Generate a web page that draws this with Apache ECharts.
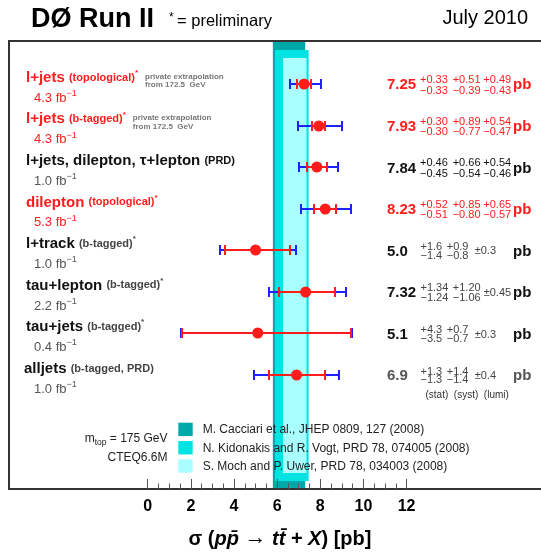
<!DOCTYPE html>
<html><head><meta charset="utf-8">
<script src="https://cdn.jsdelivr.net/npm/echarts@6/dist/echarts.min.js"></script>
<style>html,body{margin:0;padding:0;background:#fff}#c{width:541px;height:553px}</style>
</head><body><div id="c"></div>
<script>
// ================= DATA =================
const channels = ['l+jets', 'l+jets', 'l+jets, dilepton, \u03c4+lepton', 'dilepton', 'l+track', 'tau+lepton', 'tau+jets', 'alljets'];
const channelNotes = ['(topological)', '(b-tagged)', '(PRD)', '(topological)', '(b-tagged)', '(b-tagged)', '(b-tagged)', '(b-tagged, PRD)'];
const preliminary = [true, true, false, true, true, true, true, false];
const luminosities = ['4.3', '4.3', '1.0', '5.3', '1.0', '2.2', '0.4', '1.0'];
const extrapolationNote = ['private extrapolation', 'from 172.5  GeV'];
const extrapolatedRows = [0, 1];

const xsecValues = [7.25, 7.93, 7.84, 8.23, 5.0, 7.32, 5.1, 6.9];
const xsecLabels = ['7.25', '7.93', '7.84', '8.23', '5.0', '7.32', '5.1', '6.9'];
const statUp = ['+0.33', '+0.30', '+0.46', '+0.52', '+1.6', '+1.34', '+4.3', '+1.3'];
const statDown = ['\u22120.33', '\u22120.30', '\u22120.45', '\u22120.51', '\u22121.4', '\u22121.24', '\u22123.5', '\u22121.3'];
const systUp = ['+0.51', '+0.89', '+0.66', '+0.85', '+0.9', '+1.20', '+0.7', '+1.4'];
const systDown = ['\u22120.39', '\u22120.77', '\u22120.54', '\u22120.80', '\u22120.8', '\u22121.06', '\u22120.7', '\u22121.4'];
const lumiUp = ['+0.49', '+0.54', '+0.54', '+0.65', null, null, null, null];
const lumiDown = ['\u22120.43', '\u22120.47', '\u22120.46', '\u22120.57', null, null, null, null];
const lumiSym = [null, null, null, null, '\u00b10.3', '\u00b10.45', '\u00b10.3', '\u00b10.4'];

// error bar ends (stat = inner red, total = outer blue)
const statLow = [6.92, 7.63, 7.39, 7.72, 3.60, 6.08, 1.60, 5.60];
const statHigh = [7.58, 8.23, 8.30, 8.75, 6.60, 8.66, 9.40, 8.20];
const totalLow = [6.58, 6.98, 7.00, 7.12, 3.36, 5.63, 1.52, 4.92];
const totalHigh = [8.03, 9.01, 8.81, 9.42, 6.86, 9.17, 9.45, 8.85];

const theoryNames = ['M. Cacciari et al., JHEP 0809, 127 (2008)', 'N. Kidonakis and R. Vogt, PRD 78, 074005 (2008)', 'S. Moch and P. Uwer, PRD 78, 034003 (2008)'];
const theoryLow = [5.80, 5.90, 6.27];
const theoryHigh = [7.30, 7.46, 7.36];

const majorTicks = [0, 2, 4, 6, 8, 10, 12];
const minorTicks = [0.5, 1, 1.5, 2.5, 3, 3.5, 4.5, 5, 5.5, 6.5, 7, 7.5, 8.5, 9, 9.5, 10.5, 11, 11.5];

// ================= STYLE =================
const FF = '"Liberation Sans", Arial, Helvetica, sans-serif';
const RED = '#ff1c1c', BLUE = '#2020ff', BLACK = '#111', GRAY = '#555', NOTE = '#777';
const BAND_COLORS = ['#00a9a9', '#00e3e3', '#a9ffff'];
// row text theme: r = red (preliminary highlight), k = black, g = gray value
const rowTheme = ['r', 'r', 'k', 'r', 'k', 'k', 'k', 'g'];
const tightRows = [4, 6, 7];

const mctx = document.createElement('canvas').getContext('2d');
function tw(t, font) { mctx.font = font; return mctx.measureText(t).width; }

const chart = echarts.init(document.getElementById('c'), null, { renderer: 'canvas' });

function txt(x, y, text, o) {
  return {
    type: 'text', x: x, y: y, z2: 10,
    style: Object.assign({ text: text, fontFamily: FF, fontSize: 11, fill: BLACK, align: 'left', verticalAlign: 'middle' }, o || {})
  };
}

function renderBands(params, api) {
  const lvl = api.value(2);
  const cs = params.coordSys;
  const x0 = api.coord([api.value(0), 0])[0];
  const x1 = api.coord([api.value(1), 0])[0];
  const inset = lvl * 8;
  return {
    type: 'rect',
    shape: { x: x0, y: cs.y + 1 + inset, width: x1 - x0, height: cs.height - 1 - inset * 2 },
    style: { fill: BAND_COLORS[lvl] }
  };
}

function renderErr(params, api) {
  const i = api.value(0);
  const px = function (v) { return Math.round(api.coord([v, i])[0]); };
  const y = Math.round(api.coord([0, i])[1]);
  const cap = 5;
  const ln = function (x1, x2, y1, y2, c) {
    return { type: 'line', shape: { x1: x1, y1: y1, x2: x2, y2: y2 }, style: { stroke: c, lineWidth: 2 } };
  };
  const tl = px(api.value(4)), th = px(api.value(5)), sl = px(api.value(2)), sh = px(api.value(3));
  return {
    type: 'group', children: [
      ln(tl, sl, y, y, BLUE), ln(sh, th, y, y, BLUE),
      ln(tl, tl, y - cap, y + cap, BLUE), ln(th, th, y - cap, y + cap, BLUE),
      ln(sl, sh, y, y, RED), ln(sl, sl, y - cap, y + cap, RED), ln(sh, sh, y - cap, y + cap, RED),
      { type: 'circle', shape: { cx: api.coord([api.value(1), i])[0], cy: y, r: 5.5 }, style: { fill: RED } }
    ]
  };
}

function renderRowText(params, api) {
  const i = api.value(1);
  const y = api.coord([0, i])[1];
  const th = rowTheme[i];
  const mainC = th === 'r' ? RED : BLACK;
  const subC = th === 'r' ? RED : (i === 2 ? BLACK : '#444');
  const lumC = th === 'r' ? RED : GRAY;
  const valC = th === 'r' ? RED : (th === 'g' ? GRAY : BLACK);
  const smallC = th === 'r' ? RED : (i === 2 ? BLACK : '#444');
  const ch = [];
  const lx = i === 7 ? 24 : 26;
  const star = preliminary[i] ? '{p|*}' : '';
  ch.push({
    type: 'text', x: lx, y: y - 6.5, z2: 10,
    style: {
      text: '{m|' + channels[i] + ' }{s|' + channelNotes[i] + '}' + star,
      align: 'left', verticalAlign: 'middle',
      rich: {
        m: { fontFamily: FF, fontSize: 15, fontWeight: 'bold', fill: mainC, lineHeight: 18 },
        s: { fontFamily: FF, fontSize: 11, fontWeight: 'bold', fill: subC, lineHeight: 18 },
        p: { fontFamily: FF, fontSize: 8, fontWeight: 'bold', fill: subC, lineHeight: 18, verticalAlign: 'top', padding: [0, 0, 6, 0] }
      }
    }
  });
  if (extrapolatedRows.indexOf(i) >= 0) {
    const w = tw(channels[i] + ' ', 'bold 15px ' + FF) + tw(channelNotes[i], 'bold 11px ' + FF) + tw('*', 'bold 8px ' + FF);
    ch.push(txt(lx + w + 7, y - 8, extrapolationNote[0], { fontSize: 8, fill: NOTE, fontWeight: 'bold' }));
    ch.push(txt(lx + w + 7, y + 0.8, extrapolationNote[1], { fontSize: 8, fill: NOTE, fontWeight: 'bold' }));
  }
  ch.push({
    type: 'text', x: 34, y: y + 14, z2: 10,
    style: {
      text: '{n|' + luminosities[i] + ' fb}{u|\u22121}',
      align: 'left', verticalAlign: 'middle',
      rich: {
        n: { fontFamily: FF, fontSize: 13, fill: lumC, lineHeight: 18 },
        u: { fontFamily: FF, fontSize: 9, fill: lumC, lineHeight: 18, verticalAlign: 'top', padding: [0, 0, 7, 0] }
      }
    }
  });
  const vy = y + 1;
  ch.push(txt(387, vy, xsecLabels[i], { fontSize: 15, fontWeight: 'bold', fill: valC }));
  const tight = tightRows.indexOf(i) >= 0;
  const uy = vy - (tight ? 4.2 : 5.2), dy = vy + (tight ? 4.2 : 5.5);
  const sf = '11px ' + FF;
  if (lumiUp[i]) {
    const cols = [420, 452.7, 483.3];
    const ups = [statUp[i], systUp[i], lumiUp[i]], dns = [statDown[i], systDown[i], lumiDown[i]];
    for (let k = 0; k < 3; k++) {
      ch.push(txt(cols[k], uy, ups[k], { fill: smallC }));
      ch.push(txt(cols[k], dy, dns[k], { fill: smallC }));
    }
  } else {
    const c1 = 420.5;
    const w1 = Math.max(tw(statUp[i], sf), tw(statDown[i], sf));
    const c2 = c1 + w1 + 4.5;
    const w2 = Math.max(tw(systUp[i], sf), tw(systDown[i], sf));
    ch.push(txt(c1, uy, statUp[i], { fill: smallC }));
    ch.push(txt(c1, dy, statDown[i], { fill: smallC }));
    ch.push(txt(c2, uy, systUp[i], { fill: smallC }));
    ch.push(txt(c2, dy, systDown[i], { fill: smallC }));
    ch.push(txt(Math.max(c2 + 28, c2 + w2 + 3), vy, lumiSym[i], { fill: smallC }));
  }
  ch.push(txt(513, vy, 'pb', { fontSize: 15, fontWeight: 'bold', fill: valC }));
  return { type: 'group', children: ch };
}

const axisCommon = { type: 'value', min: -6.43, max: 18.23, gridIndex: 0, splitLine: { show: false }, z: 3 };

const graphics = [
  { type: 'text', left: 31, top: 6, z: 100, style: { text: 'D\u00d8 Run II', fontFamily: FF, fontSize: 27, fontWeight: 'bold', fill: '#000' } },
  { type: 'text', x: 169, y: 21, z: 100, style: { text: '{a|*} {b|= preliminary}', verticalAlign: 'middle', rich: { a: { fontFamily: FF, fontSize: 12, fill: '#000', lineHeight: 18, verticalAlign: 'top' }, b: { fontFamily: FF, fontSize: 16.5, fill: '#000', lineHeight: 18 } } } },
  { type: 'text', x: 528, y: 18, z: 100, style: { text: 'July 2010', fontFamily: FF, fontSize: 20, fill: '#000', align: 'right', verticalAlign: 'middle' } },
  { type: 'text', x: 425.5, y: 395.7, z: 100, style: { text: '(stat)  (syst)  (lumi)', fontFamily: FF, fontSize: 10, fill: '#333', verticalAlign: 'middle' } },
  { type: 'text', x: 167.5, y: 439, z: 100, style: { text: '{a|m}{b|top}{a| = 175 GeV}', align: 'right', verticalAlign: 'middle', rich: { a: { fontFamily: FF, fontSize: 12, fill: '#222', lineHeight: 16 }, b: { fontFamily: FF, fontSize: 8.5, fill: '#222', lineHeight: 16, verticalAlign: 'bottom', padding: [5, 0, 0, 0] } } } },
  { type: 'text', x: 167.5, y: 457.3, z: 100, style: { text: 'CTEQ6.6M', fontFamily: FF, fontSize: 12, fill: '#222', align: 'right', verticalAlign: 'middle' } },
  { type: 'text', x: 280, y: 539, z: 100, style: { text: '{n|\u03c3 (}{i|p}{i|p\u0304}{n| }{a|\u2192}{n| }{i|t}{i|t\u0304}{n| + }{i|X}{n|) [pb]}', align: 'center', verticalAlign: 'middle', rich: { n: { fontFamily: FF, fontSize: 20, fontWeight: 'bold', fill: '#000', lineHeight: 24 }, a: { fontFamily: FF, fontSize: 22, fontWeight: 'bold', fill: '#000', lineHeight: 24, padding: [0, 0, 3, 0] }, i: { fontFamily: FF, fontSize: 20, fontWeight: 'bold', fontStyle: 'italic', fill: '#000', lineHeight: 24 } } } }
];
theoryNames.forEach(function (name, k) {
  graphics.push({ type: 'rect', x: 178.3, y: 422.7 + k * 18.3, z: 100, shape: { width: 14.4, height: 13.4 }, style: { fill: BAND_COLORS[k] } });
  graphics.push({ type: 'text', x: 202.7, y: 430 + k * 18.3, z: 100, style: { text: name, fontFamily: FF, fontSize: 12, fill: '#222', verticalAlign: 'middle' } });
});

chart.setOption({
  animation: false,
  backgroundColor: '#fff',
  grid: { left: 9, right: 0, top: 41, bottom: 64, containLabel: false },
  xAxis: [
    Object.assign({}, axisCommon, {
      position: 'bottom',
      axisLine: { show: true, onZero: false, lineStyle: { color: '#333', width: 2 } },
      axisTick: { show: true, inside: true, length: 10, customValues: majorTicks, lineStyle: { color: '#555', width: 1 } },
      axisLabel: { show: true, customValues: majorTicks, margin: 10, fontFamily: FF, fontSize: 16, fontWeight: 'bold', color: '#000' }
    }),
    Object.assign({}, axisCommon, {
      position: 'bottom',
      axisLine: { show: false, onZero: false },
      axisTick: { show: true, inside: true, length: 5.5, customValues: minorTicks, lineStyle: { color: '#555', width: 1 } },
      axisLabel: { show: false }
    }),
    Object.assign({}, axisCommon, {
      position: 'top',
      axisLine: { show: true, onZero: false, lineStyle: { color: '#333', width: 2 } },
      axisTick: { show: false }, axisLabel: { show: false }
    })
  ],
  yAxis: {
    type: 'value', inverse: true, min: -1.043, max: 9.745,
    axisLine: { show: true, onZero: false, lineStyle: { color: '#333', width: 2 } },
    axisTick: { show: false }, axisLabel: { show: false }, splitLine: { show: false }, z: 3
  },
  series: [
    {
      type: 'custom', name: 'theory', xAxisIndex: 0, yAxisIndex: 0, z: 1, silent: true,
      renderItem: renderBands,
      encode: { x: [0, 1], y: 3 },
      data: theoryLow.map(function (lo, k) { return [lo, theoryHigh[k], k, 0]; })
    },
    {
      type: 'custom', name: 'measurements', xAxisIndex: 0, yAxisIndex: 0, z: 6, silent: true,
      renderItem: renderErr,
      encode: { y: 0, x: [1, 2, 3, 4, 5] },
      data: xsecValues.map(function (v, i) { return [i, v, statLow[i], statHigh[i], totalLow[i], totalHigh[i]]; })
    },
    {
      type: 'custom', name: 'labels', xAxisIndex: 0, yAxisIndex: 0, z: 7, silent: true,
      renderItem: renderRowText,
      encode: { x: 0, y: 1 },
      data: channels.map(function (c, i) { return [0, i]; })
    }
  ],
  graphic: { elements: graphics }
});
</script>
</body></html>
